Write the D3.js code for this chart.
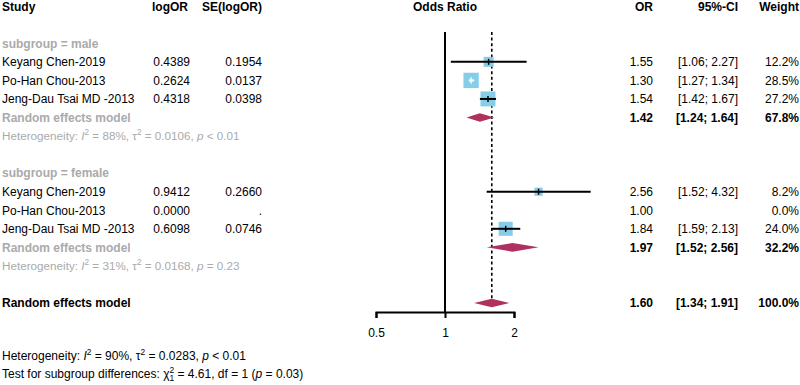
<!DOCTYPE html>
<html>
<head>
<meta charset="utf-8">
<script src="https://cdn.jsdelivr.net/npm/d3@7"></script>
<style>
  body { margin: 0; background: #fff; }
  svg text { font-family: "Liberation Sans", Arial, sans-serif; }
</style>
</head>
<body>
<div id="forest"></div>
<script>
// study rows
const studies = ["Keyang Chen-2019", "Po-Han Chou-2013", "Jeng-Dau Tsai MD -2013"];

const maleLogOR = ["0.4389", "0.2624", "0.4318"];
const maleSE = ["0.1954", "0.0137", "0.0398"];
const maleOR = [1.55, 1.30, 1.54];
const maleLo = [1.06, 1.27, 1.42];
const maleHi = [2.27, 1.34, 1.67];
const maleW = [12.2, 28.5, 27.2];

const femaleLogOR = ["0.9412", "0.0000", "0.6098"];
const femaleSE = ["0.2660", ".", "0.0746"];
const femaleOR = [2.56, 1.00, 1.84];
const femaleLo = [1.52, null, 1.59];
const femaleHi = [4.32, null, 2.13];
const femaleW = [8.2, 0.0, 24.0];

// pooled: OR, lower, upper, weight
const malePooled = [1.42, 1.24, 1.64, 67.8];
const femalePooled = [1.97, 1.52, 2.56, 32.2];
const overallPooled = [1.60, 1.34, 1.91, 100.0];

const axisTicks = [0.5, 1, 2];

const layout = {
    width: 800,
    height: 385,
    firstRow: 43.3,
    rowH: 18.55,
    axisY: 312,
    lineTop: 32,
    xLeft: 376,
    xRight: 514
};

const grey = "#aaaaaa";
const boxColor = "#86cdea";
const diamondColor = "#b03060";

let svg = d3.select("#forest").append("svg")
    .attr("width", layout.width)
    .attr("height", layout.height);

let x = d3.scaleLog().domain([0.5, 2]).range([layout.xLeft, layout.xRight]);
const rowY = i => layout.firstRow + i * layout.rowH;
const fmt2 = d3.format(".2f");
const ciText = (lo, hi) => lo == null ? "" : "[" + fmt2(lo) + "; " + fmt2(hi) + "]";

function txt(xp, yc, s, opts) {
    opts = opts || {};
    return svg.append("text")
        .attr("x", xp)
        .attr("y", yc + 4.3)
        .attr("font-size", opts.size || 12)
        .attr("font-weight", opts.bold ? "bold" : null)
        .attr("text-anchor", opts.anchor || "start")
        .attr("fill", opts.color || "black")
        .text(s);
}

// header
const hy = 6.2;
txt(2, hy, "Study", {bold: true});
txt(188, hy, "logOR", {bold: true, anchor: "end"});
txt(262, hy, "SE(logOR)", {bold: true, anchor: "end"});
txt(x(1), hy, "Odds Ratio", {bold: true, anchor: "middle"});
txt(653, hy, "OR", {bold: true, anchor: "end"});
txt(738, hy, "95%-CI", {bold: true, anchor: "end"});
txt(799, hy, "Weight", {bold: true, anchor: "end"});

// reference lines
svg.append("line")
    .attr("x1", x(1)).attr("x2", x(1))
    .attr("y1", layout.lineTop).attr("y2", layout.axisY)
    .attr("stroke", "black").attr("stroke-width", 2);
svg.append("line")
    .attr("x1", x(overallPooled[0])).attr("x2", x(overallPooled[0]))
    .attr("y1", layout.lineTop).attr("y2", rowY(14) + 4)
    .attr("stroke", "black").attr("stroke-width", 1.6)
    .attr("stroke-dasharray", "3,2.6");

function drawStudy(i, name, lor, se, or, lo, hi, w) {
    let yc = rowY(i);
    txt(2, yc, name);
    txt(190, yc, lor, {anchor: "end"});
    txt(262, yc, se, {anchor: "end"});
    txt(653, yc, fmt2(or), {anchor: "end"});
    txt(738, yc, ciText(lo, hi), {anchor: "end"});
    txt(799, yc, w.toFixed(1) + "%", {anchor: "end"});
    if (w <= 0 || lo == null) return;
    let size = 15.3 * Math.sqrt(w / 28.5);
    let cx = x(or);
    svg.append("rect")
        .attr("x", cx - size / 2).attr("y", yc - size / 2)
        .attr("width", size).attr("height", size)
        .attr("fill", boxColor);
    // CI drawn white when it sits inside the box
    let inside = x(lo) >= cx - size / 2 && x(hi) <= cx + size / 2;
    let col = inside ? "white" : "black";
    svg.append("line")
        .attr("x1", x(lo)).attr("x2", x(hi))
        .attr("y1", yc).attr("y2", yc)
        .attr("stroke", col).attr("stroke-width", 2);
    svg.append("line")
        .attr("x1", cx).attr("x2", cx)
        .attr("y1", yc - 3).attr("y2", yc + 3)
        .attr("stroke", col).attr("stroke-width", 1.5);
}

function drawPooled(i, label, p, labelColor) {
    let yc = rowY(i);
    txt(2, yc, label, {bold: true, color: labelColor});
    txt(653, yc, fmt2(p[0]), {bold: true, anchor: "end"});
    txt(738, yc, ciText(p[1], p[2]), {bold: true, anchor: "end"});
    txt(799, yc, p[3].toFixed(1) + "%", {bold: true, anchor: "end"});
    let hh = 4.3;
    svg.append("path")
        .attr("d", d3.line()([
            [x(p[1]), yc], [x(p[0]), yc - hh], [x(p[2]), yc], [x(p[0]), yc + hh]
        ]) + "Z")
        .attr("fill", diamondColor);
}

function hetText(yc, size, color, i2, tau2, pPart) {
    let t = svg.append("text")
        .attr("x", 2).attr("y", yc + 4.3)
        .attr("font-size", size).attr("fill", color);
    t.append("tspan").text("Heterogeneity: ");
    t.append("tspan").attr("font-style", "italic").text("I");
    t.append("tspan").attr("dy", -5.5).attr("font-size", size * 0.7).text("2");
    t.append("tspan").attr("dy", 5.5).text(" = " + i2 + ", \u03c4");
    t.append("tspan").attr("dy", -5.5).attr("font-size", size * 0.7).text("2");
    t.append("tspan").attr("dy", 5.5).text(" = " + tau2 + ", ");
    t.append("tspan").attr("font-style", "italic").text("p");
    t.append("tspan").text(" " + pPart);
}

// male subgroup
txt(2, rowY(0), "subgroup = male", {bold: true, color: grey});
studies.forEach((s, k) => drawStudy(1 + k, s, maleLogOR[k], maleSE[k], maleOR[k], maleLo[k], maleHi[k], maleW[k]));
drawPooled(4, "Random effects model", malePooled, grey);
hetText(rowY(5), 11.7, grey, "88%", "0.0106", "< 0.01");

// female subgroup
txt(2, rowY(7), "subgroup = female", {bold: true, color: grey});
studies.forEach((s, k) => drawStudy(8 + k, s, femaleLogOR[k], femaleSE[k], femaleOR[k], femaleLo[k], femaleHi[k], femaleW[k]));
drawPooled(11, "Random effects model", femalePooled, grey);
hetText(rowY(12), 11.7, grey, "31%", "0.0168", "= 0.23");

// overall
drawPooled(14, "Random effects model", overallPooled, "black");

// x axis
let xAxis = svg.append("g")
    .attr("transform", `translate(0,${layout.axisY})`)
    .call(d3.axisBottom(x).tickValues(axisTicks).tickSizeOuter(0).tickSize(6)
        .tickFormat(d => String(d)));
xAxis.selectAll("line, .domain").attr("stroke", "black").attr("stroke-width", 2);
xAxis.selectAll("text")
    .attr("font-size", 12).attr("fill", "black")
    .attr("font-family", "Liberation Sans, Arial, sans-serif")
    .attr("dy", null).attr("y", 25);

// bottom texts
hetText(356, 12, "black", "90%", "0.0283", "< 0.01");
let tt = svg.append("text")
    .attr("x", 2).attr("y", 378)
    .attr("font-size", 12).attr("fill", "black");
tt.append("tspan").text("Test for subgroup differences: \u03c7");
tt.append("tspan").attr("dy", -5.5).attr("font-size", 8.4).text("2");
tt.append("tspan").attr("dx", -4.7).attr("dy", 8.5).attr("font-size", 8.4).text("1");
tt.append("tspan").attr("dy", -3).text(" = 4.61, df = 1 (");
tt.append("tspan").attr("font-style", "italic").text("p");
tt.append("tspan").text(" = 0.03)");
</script>
</body>
</html>
